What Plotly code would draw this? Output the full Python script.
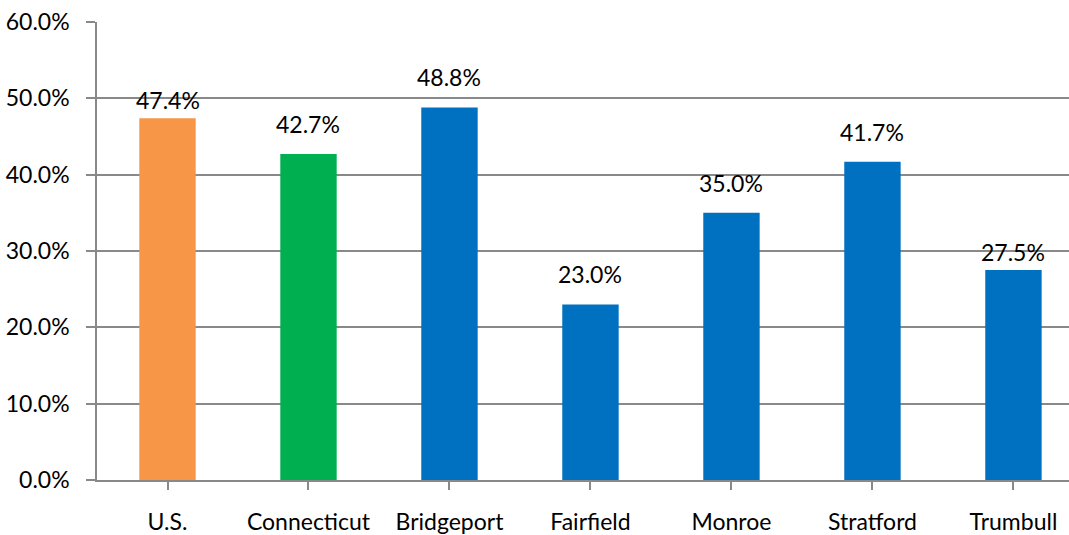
import plotly.graph_objects as go

categories = ["U.S.", "Connecticut", "Bridgeport", "Fairfield", "Monroe", "Stratford", "Trumbull"]
values = [47.4, 42.7, 48.8, 23.0, 35.0, 41.7, 27.5]
colors = ["#F79646", "#00B050", "#0070C0", "#0070C0", "#0070C0", "#0070C0", "#0070C0"]
ytick_vals = [0, 10, 20, 30, 40, 50, 60]
ytick_text = ["0.0%", "10.0%", "20.0%", "30.0%", "40.0%", "50.0%", "60.0%"]
# pixel lift of each value label above its bar (style only)
label_lift = [2, 14, 14, 14, 14, 14, 2]

FONT = "Lato, Carlito, 'Open Sans', sans-serif"
GRAY = "#898989"
FS = 23

xs = list(range(len(categories)))
fig = go.Figure(go.Bar(
    x=xs,
    y=values,
    marker=dict(color=colors, line=dict(width=0)),
    width=0.4,
    hoverinfo="skip",
))

for x, v, lift in zip(xs, values, label_lift):
    fig.add_annotation(
        x=x, y=v, text=f"{v:.1f}%", showarrow=False,
        xanchor="center", yanchor="bottom", yshift=lift,
        font=dict(family=FONT, size=FS, color="#000000"),
    )

fig.update_layout(
    width=1069, height=535,
    margin=dict(l=97, r=0, t=22, b=46),
    paper_bgcolor="white", plot_bgcolor="white",
    showlegend=False,
    font=dict(family=FONT, size=FS, color="#000000"),
)
fig.update_xaxes(
    tickmode="array",
    tickvals=xs,
    ticktext=categories,
    tickson="boundaries",
    range=[-0.5, 6.394],
    showline=True, linecolor=GRAY, linewidth=1.5,
    ticks="outside", ticklen=8, tickcolor=GRAY, tickwidth=1.5,
    showgrid=False, zeroline=False,
    ticklabelstandoff=13,
    tickfont=dict(family=FONT, size=FS, color="#000000"),
)
fig.update_yaxes(
    range=[0, 60],
    tickmode="array", tickvals=ytick_vals, ticktext=ytick_text,
    showline=True, linecolor=GRAY, linewidth=1.5,
    ticks="outside", ticklen=9, tickcolor=GRAY, tickwidth=1.5,
    showgrid=True, gridcolor=GRAY, gridwidth=1.5,
    zeroline=False,
    ticklabelstandoff=12,
    tickfont=dict(family=FONT, size=FS, color="#000000"),
)

fig.write_html(
    "out.html",
    config={"displayModeBar": False},
    post_script="document.body.style.margin='0';",
)
